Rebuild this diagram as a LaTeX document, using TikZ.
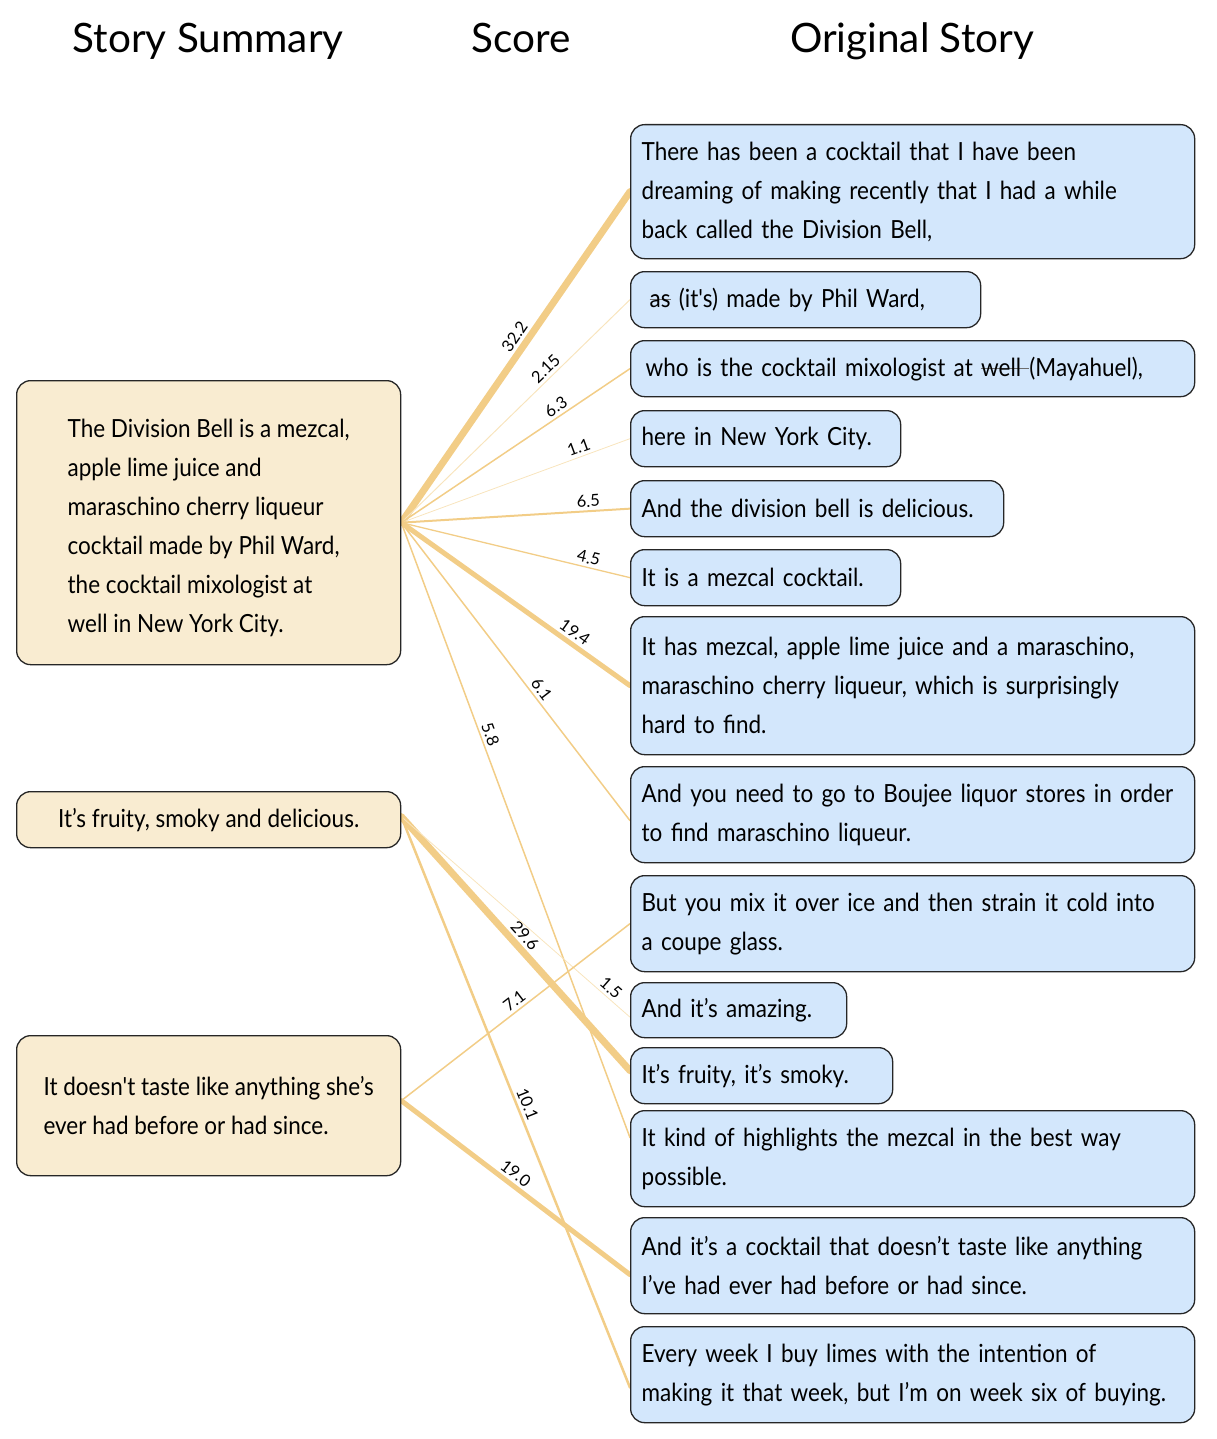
\documentclass[tikz,border=0pt]{standalone}
\usepackage{fontspec}
\setmainfont{Lato}
\newfontfamily\bodyfont[FakeStretch=0.90]{Lato}
\usetikzlibrary{calc,backgrounds}
\definecolor{gold}{HTML}{F2CD87}
\definecolor{bluefill}{HTML}{D3E7FC}
\definecolor{beige}{HTML}{F9ECD1}
\definecolor{strk}{HTML}{6E6E6E}
\tikzset{
  basebox/.style={draw=black!85, line width=1.3pt, rounded corners=14pt, anchor=north west,
    inner xsep=11pt, inner ysep=0pt, font=\bodyfont\fontsize{25}{39}\selectfont, align=left},
  rbox/.style={basebox, fill=bluefill},
  lbox/.style={basebox, fill=beige, minimum width=384pt},
  hdr/.style={font=\fontsize{40.5}{46}\selectfont, anchor=base},
  edge/.style={draw=gold, line cap=round},
  faint/.style={draw=gold!55},
  sc/.style={font=\fontsize{16.5}{18}\selectfont, sloped, above, inner sep=3pt}
}
\newsavebox{\strkbox}
\newcommand{\struck}[1]{\sbox{\strkbox}{#1}\rlap{\color{strk}\rule[0.28em]{\wd\strkbox}{1.3pt}}{\color{strk}\usebox{\strkbox}}}
\begin{document}
\begin{tikzpicture}[x=1pt,y=-1pt]
\useasboundingbox (0,0) rectangle (1216,1439);
% headers
\node[hdr] (h1) at (208,53) {Story Summary};
\node[hdr] (h2) at (521,53) {Score};
\node[hdr] (h3) at (912,53) {Original Story};
% left boxes
\node[lbox, minimum height=284pt] (l1) at (16,380) {\rule{0pt}{29pt}The Division Bell is a mezcal,\\apple lime juice and\\maraschino cherry liqueur\\cocktail made by Phil Ward,\\the cocktail mixologist at\\well in New York City.};
\node[lbox, minimum height=56pt] (l2) at (16,791) {It’s fruity, smoky and delicious.};
\node[lbox, minimum height=140pt, inner xsep=6pt] (l3) at (16,1035) {It doesn't taste like anything she’s\\ever had before or had since.};
% right boxes
\node[rbox, text width=542pt, minimum height=134pt] (r1) at (630,124) {There has been a cocktail that I have been\\dreaming of making recently that I had a while\\back called the Division Bell,};
\node[rbox, text width=328pt, minimum height=56pt] (r2) at (630,271) {\hspace{8pt}\struck{as} (it's) made by Phil Ward,};
\node[rbox, text width=542pt, minimum height=56pt] (r3) at (630,340) {\hspace{4pt}who is the cocktail mixologist at \struck{well }(Mayahuel),};
\node[rbox, text width=248pt, minimum height=56pt] (r4) at (630,410) {here in New York City.};
\node[rbox, text width=351pt, minimum height=56pt] (r5) at (630,480) {And the division bell is delicious.};
\node[rbox, text width=248pt, minimum height=56pt] (r6) at (630,549) {It is a mezcal cocktail.};
\node[rbox, text width=542pt, minimum height=138pt] (r7) at (630,616) {It has mezcal, apple lime juice and a maraschino,\\maraschino cherry liqueur, which is surprisingly\\hard to find.};
\node[rbox, text width=542pt, minimum height=96pt] (r8) at (630,766) {And you need to go to Boujee liquor stores in order\\to find maraschino liqueur.};
\node[rbox, text width=542pt, minimum height=96pt] (r9) at (630,875) {But you mix it over ice and then strain it cold into\\a coupe glass.};
\node[rbox, text width=194pt, minimum height=55pt] (r10) at (630,982) {And it’s amazing.};
\node[rbox, text width=240pt, minimum height=56pt] (r11) at (630,1047) {It’s fruity, it’s smoky.};
\node[rbox, text width=542pt, minimum height=96pt] (r12) at (630,1110) {It kind of highlights the mezcal in the best way\\possible.};
\node[rbox, text width=542pt, minimum height=96pt] (r13) at (630,1217) {And it’s a cocktail that doesn’t taste like anything\\I’ve had ever had before or had since.};
\node[rbox, text width=542pt, minimum height=96pt] (r14) at (630,1326) {Every week I buy limes with the intention of\\making it that week, but I’m on week six of buying.};
% connectors
\begin{pgfonlayer}{background}
\coordinate (s1) at (l1.east);
\coordinate (s2) at ([yshift=3pt]l2.east);
\coordinate (s3) at ([yshift=5pt]l3.east);
\draw[edge, line width=7pt] (s1) -- node[sc, pos=0.54] {32.2} (r1.west);
\draw[edge, faint, line width=1pt] (s1) -- node[sc, pos=0.66] {2.15} (r2.west);
\draw[edge, line width=1.5pt] (s1) -- node[sc, pos=0.70] {6.3} (r3.west);
\draw[edge, faint, line width=0.8pt] (s1) -- node[sc, pos=0.79] {1.1} (r4.west);
\draw[edge, line width=2pt] (s1) -- node[sc, pos=0.82] {6.5} (r5.west);
\draw[edge, line width=1.3pt] (s1) -- node[sc, pos=0.81] {4.5} (r6.west);
\draw[edge, line width=5pt] (s1) -- node[sc, pos=0.73] {19.4} (r7.west);
\draw[edge, line width=1.5pt] (s1) -- node[sc, pos=0.58] {6.1} ([yshift=-6pt]r8.west);
\draw[edge, line width=1.5pt] (s1) -- node[sc, pos=0.35] {5.8} ([yshift=21pt]r12.west);
\draw[edge, line width=7pt] (s2) -- node[sc, pos=0.50] {29.6} ([yshift=5pt]r11.west);
\draw[edge, faint, line width=0.8pt] (s2) -- node[sc, pos=0.89] {1.5} ([yshift=-7pt]r10.west);
\draw[edge, line width=2.5pt] (s2) -- node[sc, pos=0.51] {10.1} ([yshift=-13pt]r14.west);
\draw[edge, line width=1.5pt] (s3) -- node[sc, pos=0.52] {7.1} (r9.west);
\draw[edge, line width=5pt] (s3) -- node[sc, pos=0.47] {19.0} ([yshift=-9pt]r13.west);
\end{pgfonlayer}
\end{tikzpicture}
\end{document}
